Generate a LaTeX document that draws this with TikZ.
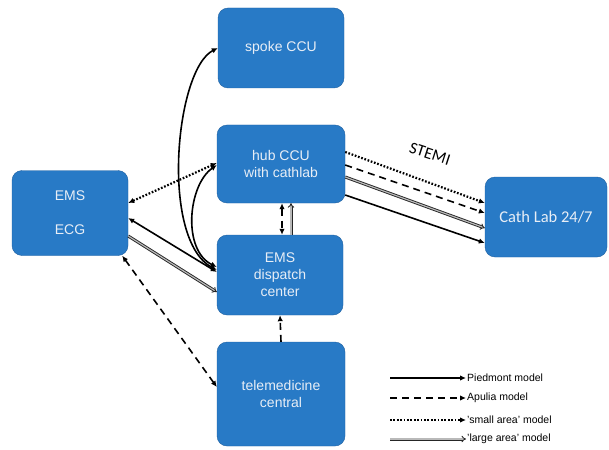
\documentclass[tikz,border=0pt]{standalone}
\usepackage{fontspec}
\setmainfont{Liberation Sans}
\newfontfamily\calfont{Carlito}
\usepackage{xcolor}
\usetikzlibrary{arrows.meta, positioning}

\definecolor{boxblue}{RGB}{40,122,198}
\definecolor{boxedge}{RGB}{30,95,160}
\definecolor{boxtext}{RGB}{232,238,246}

\begin{document}
\begin{tikzpicture}[x=1pt, y=-1pt, >={Latex[length=6pt, width=5.5pt]},
        unit/.style={rectangle, rounded corners=10pt, draw=boxedge, fill=boxblue,
            text=boxtext, align=center, font=\fontsize{14}{17}\selectfont, inner sep=0pt},
        piedmont/.style={line width=1.6pt},
        apulia/.style={line width=1.6pt, dash pattern=on 7pt off 5pt},
        smallarea/.style={line width=2.2pt, dash pattern=on 1.7pt off 1.7pt},
        largearea/.style={line width=0.9pt, draw=black!85, double=gray!55, double distance=1.2pt, -{Implies[scale=1.8]}},
        legtext/.style={anchor=west, font=\fontsize{10.5}{12}\selectfont, inner sep=1pt}]
        \useasboundingbox (0,0) rectangle (609,449);

        \node[unit, minimum width=126pt, minimum height=80pt] (spoke) at (281,48) {spoke CCU};
        \node[unit, minimum width=128pt, minimum height=78pt] (hub) at (281,164) {hub CCU\\with cathlab};
        \node[unit, minimum width=126pt, minimum height=80pt] (disp) at (280,275) {EMS\\dispatch\\center};
        \node[unit, minimum width=128pt, minimum height=104pt] (tele) at (281,394) {telemedicine\\central};
        \node[unit, minimum width=116pt, minimum height=85pt] (ems) at (70,213) {EMS\\[17pt]ECG};
        \node[unit, minimum width=122pt, minimum height=80pt, font=\calfont\fontsize{16.5}{18}\selectfont] (cath) at (546,217) {Cath Lab 24/7};

        \node[font=\calfont\fontsize{16.5}{18}\selectfont, rotate=-18, inner sep=1pt] (stemi) at (430,154) {STEMI};

        % EMS dispatch center to spoke and hub
        \draw[piedmont, <->] ([yshift=5pt]disp.west) .. controls (160,240) and (175,70) .. (spoke.west);
        \draw[piedmont, <->] ([yshift=8pt]disp.west) .. controls (182,250) and (188,185) .. ([yshift=-1pt]hub.west);

        % EMS ECG links
        \draw[smallarea, <->] ([yshift=10pt]ems.east) to ([yshift=1pt]hub.west);
        \draw[piedmont, <->] ([yshift=-5pt]ems.east) to ([yshift=3pt]disp.west);
        \draw[largearea] ([yshift=-23pt]ems.east) to ([yshift=-17pt]disp.west);
        \draw[apulia, <->] ([xshift=-6pt]ems.south east) to ([yshift=7pt]tele.west);

        % hub and dispatch
        \draw[apulia, <->] ([xshift=1pt]hub.south) to ([xshift=2pt]disp.north);
        \draw[largearea] ([xshift=11pt]disp.north) to ([xshift=10pt]hub.south);
        \draw[apulia, ->] (tele.north) to (disp.south);

        % hub to cath lab
        \draw[smallarea, ->] ([yshift=12pt]hub.east) to ([yshift=14pt]cath.west);
        \draw[apulia, ->] ([yshift=-1pt]hub.east) to ([yshift=4pt]cath.west);
        \draw[largearea] ([yshift=-13pt]hub.east) to ([yshift=-11pt]cath.west);
        \draw[piedmont, ->] ([yshift=-31pt]hub.east) to ([yshift=-26pt]cath.west);

        % legend
        \node[legtext] (lpied) at (466,378) {Piedmont model};
        \node[legtext] (lapul) at (466,398) {Apulia model};
        \node[legtext] (lsmall) at (466,420) {'small area' model};
        \node[legtext] (llarge) at (466,439) {'large area' model};
        \coordinate (cpied) at (390,378);
        \coordinate (capul) at (390,398);
        \coordinate (csmall) at (390,420);
        \coordinate (clarge) at (390,439);
        \draw[piedmont, ->] (cpied) to (lpied.west);
        \draw[apulia, ->] (capul) to (lapul.west);
        \draw[smallarea, ->] (csmall) to (lsmall.west);
        \draw[largearea] (clarge) to (llarge.west);
    \end{tikzpicture}
\end{document}
